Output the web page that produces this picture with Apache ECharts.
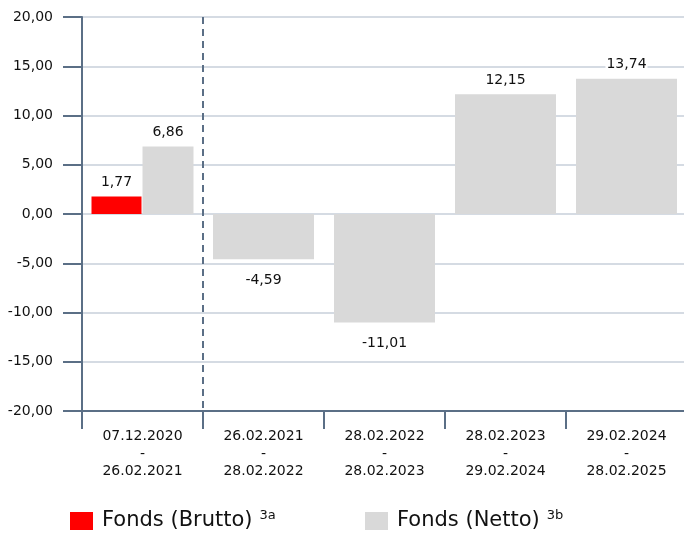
<!DOCTYPE html>
<html>
<head>
<meta charset="utf-8">
<script src="https://cdn.jsdelivr.net/npm/echarts@6/dist/echarts.min.js"></script>
<style>
  html, body { margin: 0; padding: 0; background: #fff; overflow: hidden; }
  /* plot runs slightly past the right edge of the window, as in the source */
  #chart { width: 687px; height: 536px; }
</style>
</head>
<body>
<div id="chart"></div>
<script>
const categories = [
  "07.12.2020\n-\n26.02.2021",
  "26.02.2021\n-\n28.02.2022",
  "28.02.2022\n-\n28.02.2023",
  "28.02.2023\n-\n29.02.2024",
  "29.02.2024\n-\n28.02.2025",
];
const brutto = [1.77, null, null, null, null];
const netto = [6.86, -4.59, -11.01, 12.15, 13.74];
const yTicks = { min: -20, max: 20, step: 5 };
// dashed separator sits after this category
const dividerAfter = 0;

const AXIS = "#5b6f86";
const GRID = "#d5dbe3";
const RED = "#ff0000";
const GREY = "#d9d9d9";
const FONT = "DejaVu Sans";

const fmt = (v) => v.toFixed(2).replace(".", ",");

const valueLabel = {
  show: true,
  fontFamily: FONT,
  fontSize: 14,
  color: "#111",
  backgroundColor: "#fff",
  padding: [0, 1],
  formatter: (p) => fmt(p.value),
};

const toItems = (arr) =>
  arr.map((v) =>
    v == null
      ? null
      : {
          value: v,
          label: v < 0 ? { position: "bottom", distance: 14 } : { position: "top", distance: 7 },
        }
  );

const nettoFirst = netto.map((v, i) => (i === 0 ? v : null));
const nettoRest = netto.map((v, i) => (i === 0 ? null : v));

const legendRich = {
  n: { fontFamily: FONT, fontSize: 21, color: "#111", lineHeight: 24, padding: [0, 0, 0, 4] },
  s: { fontFamily: FONT, fontSize: 13, color: "#111", verticalAlign: "top", lineHeight: 24, padding: [0, 0, 8, 7] },
};
const legendFmt = (name) => (name === "Fonds (Brutto)" ? "{n|Fonds (Brutto)}{s|3a}" : "{n|Fonds (Netto)}{s|3b}");

const legendBase = {
  top: 509,
  padding: 0,
  itemWidth: 23,
  itemHeight: 18,
  icon: "rect",
  formatter: legendFmt,
  textStyle: { rich: legendRich },
};

const chart = echarts.init(document.getElementById("chart"));
chart.setOption({
  animation: false,
  grid: { left: 82, right: 0, top: 17, bottom: 125 },
  legend: [
    Object.assign({ data: ["Fonds (Brutto)"], left: 70 }, legendBase),
    Object.assign({ data: ["Fonds (Netto)"], left: 365 }, legendBase),
  ],
  xAxis: [
    {
      type: "category",
      data: categories,
      position: "bottom",
      axisLine: { onZero: false, lineStyle: { color: AXIS, width: 2 } },
      axisTick: { show: true, length: 18, interval: 0, lineStyle: { color: AXIS, width: 2 } },
      axisLabel: {
        interval: 0,
        margin: 17,
        fontFamily: FONT,
        fontSize: 14,
        lineHeight: 17.5,
        color: "#111",
      },
      splitLine: { show: false },
    },
    {
      type: "category",
      data: categories,
      show: false,
    },
  ],
  yAxis: {
    type: "value",
    min: yTicks.min,
    max: yTicks.max,
    interval: yTicks.step,
    axisLine: { show: true, lineStyle: { color: AXIS, width: 2 } },
    axisTick: { show: true, length: 19, lineStyle: { color: AXIS, width: 2 } },
    axisLabel: {
      margin: 29,
      fontFamily: FONT,
      fontSize: 14,
      color: "#111",
      formatter: (v) => fmt(v),
    },
    splitLine: { show: true, lineStyle: { color: GRID, width: 2 } },
  },
  series: [
    {
      name: "Fonds (Brutto)",
      type: "bar",
      xAxisIndex: 0,
      data: toItems(brutto),
      barWidth: 50,
      barGap: "2%",
      itemStyle: { color: RED },
      label: valueLabel,
    },
    {
      name: "Fonds (Netto)",
      type: "bar",
      xAxisIndex: 0,
      data: toItems(nettoFirst),
      barWidth: 51,
      itemStyle: { color: GREY },
      label: valueLabel,
    },
    {
      name: "Fonds (Netto)",
      type: "bar",
      xAxisIndex: 1,
      data: toItems(nettoRest),
      barWidth: 101,
      itemStyle: { color: GREY },
      label: valueLabel,
    },
    {
      // dashed boundary between the first period and the rest
      type: "custom",
      xAxisIndex: 0,
      silent: true,
      z: 1,
      data: [[dividerAfter, 0]],
      encode: { x: 0, y: 1 },
      renderItem: (params, api) => {
        const c = api.coord([api.value(0), 0]);
        const band = api.size([1, 0])[0];
        const x = c[0] + band / 2;
        const cs = params.coordSys;
        return {
          type: "line",
          shape: { x1: x, y1: cs.y, x2: x, y2: cs.y + cs.height },
          style: { stroke: AXIS, lineWidth: 2, lineDash: [7, 5] },
        };
      },
    },
  ],
});
</script>
</body>
</html>
